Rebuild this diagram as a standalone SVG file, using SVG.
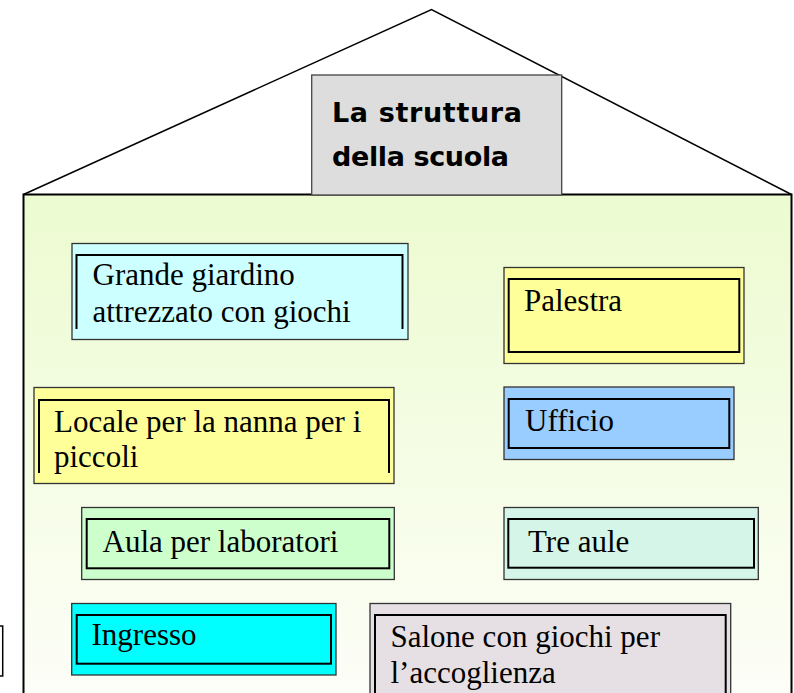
<svg xmlns="http://www.w3.org/2000/svg" width="794" height="693" viewBox="0 0 794 693">
<defs>
<linearGradient id="wallFill" x1="0" y1="0" x2="0" y2="1">
<stop offset="0" stop-color="#ecfbd0"/>
<stop offset="1" stop-color="#fdfef8"/>
</linearGradient>
<style>
.outer{stroke:#333333;stroke-width:1.3}
.inner{fill:none;stroke:#000000;stroke-width:2}
.lbl{font-family:"Liberation Serif","Times New Roman",serif;font-size:31px;fill:#000000}
.title{font-family:"DejaVu Sans","Liberation Sans",sans-serif;font-weight:bold;font-size:27px;fill:#000000}
</style>
</defs>
<rect width="794" height="693" fill="#ffffff"/>
<g id="house">
<polyline points="23.5,194.5 431.5,9.5 791.5,194.5" fill="none" stroke="#000000" stroke-width="1.5"/>
<path d="M23.5,194.5 H791.5 V700 H23.5 Z" fill="url(#wallFill)" stroke="#000000" stroke-width="2"/>
</g>
<g id="offpage">
<rect x="-20" y="626" width="22.7" height="50" fill="#ffffff" stroke="#000000" stroke-width="1.5"/>
</g>
<g id="title">
<rect x="311.7" y="75" width="250" height="120" fill="#dddddd" stroke="#444444" stroke-width="1.3"/>
<text class="title" x="332" y="121.5" textLength="190" lengthAdjust="spacing">La struttura</text>
<text class="title" x="332" y="166" textLength="177" lengthAdjust="spacing">della scuola</text>
</g>
<g id="giardino">
<rect class="outer" x="72" y="243.5" width="336" height="96" fill="#ccffff"/>
<path class="inner" d="M76.5,329 V255 H402.5 V329"/>
<text class="lbl" x="92.5" y="285">Grande giardino</text>
<text class="lbl" x="92.5" y="321.5">attrezzato con giochi</text>
</g>
<g id="palestra">
<rect class="outer" x="504" y="267.5" width="240" height="96" fill="#ffff99"/>
<rect class="inner" x="508.7" y="279" width="230.6" height="73"/>
<text class="lbl" x="524" y="311">Palestra</text>
</g>
<g id="nanna">
<rect class="outer" x="34" y="387.5" width="360" height="96" fill="#ffff99"/>
<path class="inner" d="M39,473 V400 H389 V473"/>
<text class="lbl" x="54" y="431.5">Locale per la nanna per i</text>
<text class="lbl" x="54" y="466.5">piccoli</text>
</g>
<g id="ufficio">
<rect class="outer" x="504" y="387" width="230" height="72.5" fill="#99ccff"/>
<rect class="inner" x="508.7" y="399" width="220.6" height="49"/>
<text class="lbl" x="525" y="431">Ufficio</text>
</g>
<g id="laboratori">
<rect class="outer" x="81.7" y="507.5" width="312.6" height="72" fill="#ccffcc"/>
<rect class="inner" x="86.7" y="519" width="302.6" height="49.3"/>
<text class="lbl" x="102.5" y="551.5">Aula per laboratori</text>
</g>
<g id="treaule">
<rect class="outer" x="504" y="507.5" width="254.3" height="72" fill="#d5f5e8"/>
<rect class="inner" x="508.3" y="519" width="245.7" height="48.7"/>
<text class="lbl" x="528" y="551.5">Tre aule</text>
</g>
<g id="ingresso">
<rect class="outer" x="71.7" y="603.5" width="264.3" height="71.5" fill="#00ffff"/>
<rect class="inner" x="76.7" y="615" width="254.3" height="48.7"/>
<text class="lbl" x="91.5" y="644.5">Ingresso</text>
</g>
<g id="salone">
<rect class="outer" x="370" y="603.5" width="360.7" height="100" fill="#e6e0e4"/>
<path class="inner" d="M375,700 V615 H725.7 V700"/>
<text class="lbl" x="390.5" y="647">Salone con giochi per</text>
<text class="lbl" x="390.5" y="683">l’accoglienza</text>
</g>
</svg>
